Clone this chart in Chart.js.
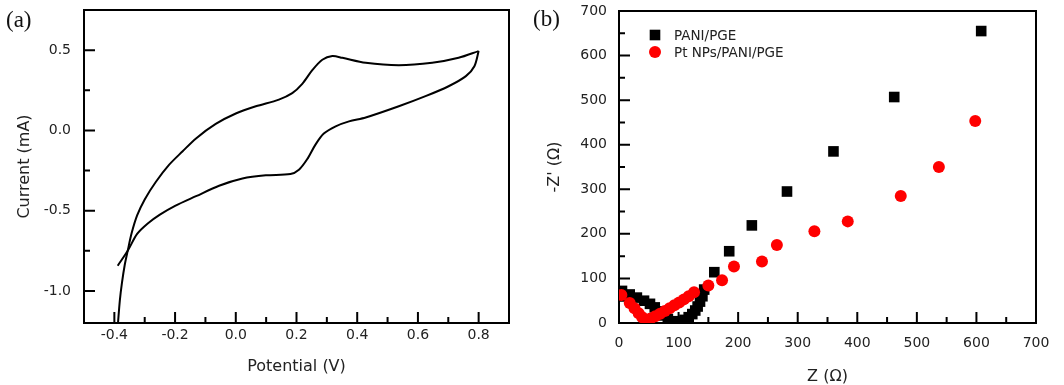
<!DOCTYPE html>
<html>
<head>
<meta charset="utf-8">
<script src="https://cdn.jsdelivr.net/npm/chart.js@4.4.1/dist/chart.umd.min.js"></script>
<style>
  html, body { margin: 0; padding: 0; background: #fff; }
  #wrap { position: relative; width: 1064px; height: 385px; overflow: hidden; }
  .panel { position: absolute; top: 0; height: 385px; }
  #panelA { left: 0; width: 530px; }
  #panelB { left: 530px; width: 534px; }
  .tag { position: absolute; font-family: 'Liberation Serif', serif; font-size: 23px; color: #111; line-height: 1.15; }
</style>
</head>
<body>
<div id="wrap">
  <div class="panel" id="panelA"><canvas id="cvChart"></canvas></div>
  <div class="panel" id="panelB"><canvas id="eisChart"></canvas></div>
  <div class="tag" style="left:6px; top:7px">(a)</div>
  <div class="tag" style="left:533px; top:6px">(b)</div>
</div>
<script>
// (a) cyclic voltammogram, forward and reverse sweep
const fwdPotential = [-0.388, -0.382, -0.375, -0.366, -0.356, -0.343, -0.325, -0.3, -0.263, -0.22, -0.175, -0.131, -0.066, 0.0, 0.066, 0.142, 0.186, 0.219, 0.252, 0.285, 0.318, 0.351, 0.428, 0.537, 0.647, 0.734, 0.8]
const fwdCurrent = [-1.2, -1.06, -0.95, -0.84, -0.75, -0.64, -0.53, -0.43, -0.32, -0.215, -0.13, -0.05, 0.04, 0.105, 0.15, 0.192, 0.232, 0.29, 0.375, 0.44, 0.463, 0.452, 0.421, 0.406, 0.421, 0.452, 0.494]
const revPotential = [0.8, 0.786, 0.758, 0.701, 0.625, 0.537, 0.428, 0.373, 0.329, 0.29, 0.262, 0.235, 0.208, 0.18, 0.099, 0.022, -0.055, -0.131, -0.2, -0.25, -0.29, -0.325, -0.356, -0.389]
const revCurrent = [0.494, 0.4, 0.338, 0.275, 0.213, 0.15, 0.08, 0.056, 0.025, -0.02, -0.09, -0.18, -0.245, -0.272, -0.28, -0.3, -0.345, -0.41, -0.47, -0.525, -0.58, -0.645, -0.75, -0.843]
const potentialTicks = [-0.4, -0.2, 0.0, 0.2, 0.4, 0.6, 0.8]
const potentialMinor = [-0.3, -0.1, 0.1, 0.3, 0.5, 0.7]
const currentTicks = [-1.0, -0.5, 0.0, 0.5]
const currentMinor = [-0.75, -0.25, 0.25]

// (b) Nyquist plot
const paniZre = [5, 18, 30, 42, 52, 60, 67, 74, 82, 92, 102, 110, 117, 123, 128, 132, 136, 140, 143, 160, 185, 223, 282, 360, 462, 608]
const paniZim = [72, 64, 57, 50, 43, 35, 26, 17, 9, 4, 3, 7, 13, 20, 28, 37, 48, 60, 75, 114, 161, 219, 295, 385, 507, 655]
const ptZre = [4, 18, 26, 33, 39, 46, 53, 61, 69, 77, 85, 93, 101, 109, 117, 126, 150, 173, 193, 240, 265, 328, 384, 473, 537, 598]
const ptZim = [63, 45, 33, 22, 13, 7, 10, 15, 21, 27, 33, 40, 46, 53, 60, 69, 84, 96, 127, 138, 175, 206, 228, 285, 350, 453]
const zTicks = [0, 100, 200, 300, 400, 500, 600, 700]
const zMinor = [50, 150, 250, 350, 450, 550, 650]

Chart.defaults.font.family = 'DejaVu Sans'
Chart.defaults.animation = false

const toPoints = (xs, ys) => xs.map((x, i) => ({ x: x, y: ys[i] }))

// no extra room for edge labels, the plot box is placed by the layout padding
const noEdgePadding = (s) => {
  s.paddingTop = 0
  s.paddingBottom = 0
  s.paddingLeft = 0
  s.paddingRight = 0
}

// box round the plot area plus inward major and minor ticks
const framePlugin = {
  id: 'frame',
  beforeDatasetsDraw(chart, args, opts) {
    const { ctx, chartArea: a, scales } = chart
    const x = scales.x
    const y = scales.y
    ctx.save()
    ctx.strokeStyle = '#000'
    ctx.lineWidth = 2
    ctx.beginPath()
    opts.xMajor.forEach(v => { const p = x.getPixelForValue(v); ctx.moveTo(p, a.bottom); ctx.lineTo(p, a.bottom - 11) })
    opts.xMinor.forEach(v => { const p = x.getPixelForValue(v); ctx.moveTo(p, a.bottom); ctx.lineTo(p, a.bottom - 6) })
    opts.yMajor.forEach(v => { const p = y.getPixelForValue(v); ctx.moveTo(a.left, p); ctx.lineTo(a.left + 11, p) })
    opts.yMinor.forEach(v => { const p = y.getPixelForValue(v); ctx.moveTo(a.left, p); ctx.lineTo(a.left + 6, p) })
    ctx.stroke()
    ctx.strokeRect(a.left, a.top, a.right - a.left, a.bottom - a.top)
    ctx.restore()
  }
}

// legend drawn inside the plot, top left
const innerLegend = {
  id: 'innerLegend',
  afterDraw(chart, args, opts) {
    if (!opts.show) return
    const { ctx, chartArea: a } = chart
    ctx.save()
    ctx.font = '13.5px "DejaVu Sans"'
    ctx.textBaseline = 'middle'
    chart.data.datasets.forEach((ds, i) => {
      const cx = a.left + 36
      const cy = a.top + 24 + i * 17
      ctx.fillStyle = ds.backgroundColor
      ctx.beginPath()
      if (ds.pointStyle === 'rect') {
        const h = ds.pointRadius * Math.SQRT1_2
        ctx.rect(cx - h, cy - h, 2 * h, 2 * h)
      } else {
        ctx.arc(cx, cy, ds.pointRadius, 0, Math.PI * 2)
      }
      ctx.fill()
      ctx.fillStyle = '#222'
      ctx.fillText(ds.label, a.left + 55, cy + 1)
    })
    ctx.restore()
  }
}

const axisFont = { family: 'DejaVu Sans', size: 14 }
const titleFont = { family: 'DejaVu Sans', size: 16 }

new Chart(document.getElementById('cvChart'), {
  type: 'scatter',
  data: {
    datasets: [
      { label: 'forward', data: toPoints(fwdPotential, fwdCurrent), showLine: true, borderColor: '#000', borderWidth: 2, pointRadius: 0, tension: 0.3, fill: false },
      { label: 'reverse', data: toPoints(revPotential, revCurrent), showLine: true, borderColor: '#000', borderWidth: 2, pointRadius: 0, tension: 0.3, fill: false }
    ]
  },
  options: {
    responsive: true,
    maintainAspectRatio: false,
    layout: { padding: { left: 0, right: 21, top: 10, bottom: 0 } },
    plugins: {
      legend: { display: false },
      tooltip: { enabled: false },
      frame: { xMajor: potentialTicks, xMinor: potentialMinor, yMajor: currentTicks, yMinor: currentMinor },
      innerLegend: { show: false }
    },
    scales: {
      x: {
        type: 'linear', min: -0.5, max: 0.9,
        afterBuildTicks: s => { s.ticks = potentialTicks.map(v => ({ value: v })) },
        afterFit: s => { s.height = 62; noEdgePadding(s) },
        grid: { display: false, drawTicks: false },
        border: { display: false },
        ticks: { padding: 4, color: '#222', font: axisFont, callback: v => v.toFixed(1) },
        title: { display: true, text: 'Potential (V)', color: '#222', font: titleFont, padding: { top: 0, bottom: 9 } }
      },
      y: {
        type: 'linear', min: -1.2, max: 0.75,
        afterBuildTicks: s => { s.ticks = currentTicks.map(v => ({ value: v })) },
        afterFit: s => { s.width = 84; noEdgePadding(s) },
        grid: { display: false, drawTicks: false },
        border: { display: false },
        ticks: { padding: 13, color: '#222', font: axisFont, callback: v => v.toFixed(1) },
        title: { display: true, text: 'Current (mA)', color: '#222', font: titleFont, padding: { top: 15, bottom: 0 } }
      }
    }
  },
  plugins: [framePlugin, innerLegend]
})

new Chart(document.getElementById('eisChart'), {
  type: 'scatter',
  data: {
    datasets: [
      { label: 'PANI/PGE', data: toPoints(paniZre, paniZim), pointStyle: 'rect', pointRadius: 7.5, backgroundColor: '#000', borderWidth: 0, order: 1 },
      { label: 'Pt NPs/PANI/PGE', data: toPoints(ptZre, ptZim), pointStyle: 'circle', pointRadius: 6, backgroundColor: '#ff0000', borderWidth: 0, order: 0 }
    ]
  },
  options: {
    responsive: true,
    maintainAspectRatio: false,
    layout: { padding: { left: 0, right: 28, top: 11, bottom: 0 } },
    plugins: {
      legend: { display: false },
      tooltip: { enabled: false },
      frame: { xMajor: zTicks, xMinor: zMinor, yMajor: zTicks, yMinor: zMinor },
      innerLegend: { show: true }
    },
    scales: {
      x: {
        type: 'linear', min: 0, max: 700,
        afterBuildTicks: s => { s.ticks = zTicks.map(v => ({ value: v })) },
        afterFit: s => { s.height = 62; noEdgePadding(s) },
        grid: { display: false, drawTicks: false },
        border: { display: false },
        ticks: { padding: 12, color: '#222', font: axisFont },
        title: { display: true, text: 'Z (Ω)', color: '#222', font: { family: 'DejaVu Sans', size: 16, lineHeight: 1 }, padding: { top: 0, bottom: 0 } }
      },
      y: {
        type: 'linear', min: 0, max: 700,
        afterBuildTicks: s => { s.ticks = zTicks.map(v => ({ value: v })) },
        afterFit: s => { s.width = 89; noEdgePadding(s) },
        grid: { display: false, drawTicks: false },
        border: { display: false },
        ticks: { padding: 12, color: '#222', font: axisFont },
        title: { display: true, text: "-Z' (Ω)", color: '#222', font: titleFont, padding: { top: 15, bottom: 0 } }
      }
    }
  },
  plugins: [framePlugin, innerLegend]
})
</script>
</body>
</html>
